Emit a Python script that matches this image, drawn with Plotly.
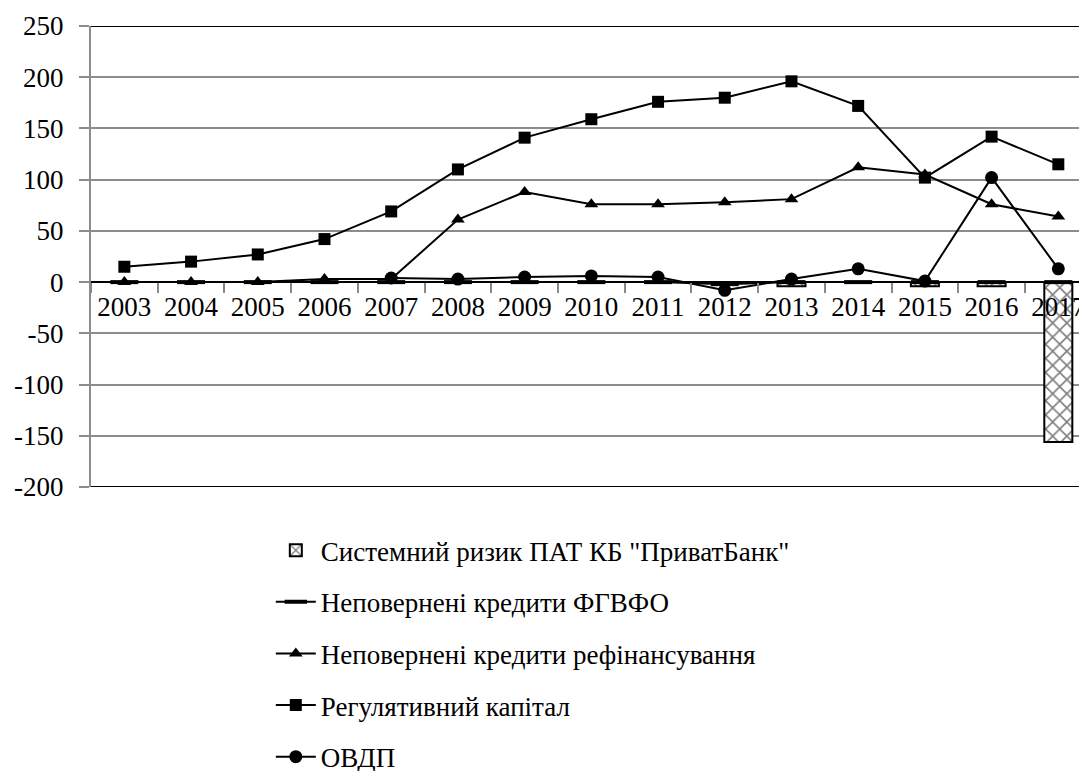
import plotly.graph_objects as go

years = [str(y) for y in range(2003, 2018)]
sys_risk = [None, None, None, None, None, None, None, None, None, None, -4, None, -4, -4, -156]
fgvfo = [0, 0, 0, 0, 0, 0, 0, 0, 0, -2, 0, 0, 0, 0, 0]
refin = [0, 0, 0, 3, 3, 61, 88, 76, 76, 78, 81, 112, 105, 76, 64]
capital = [15, 20, 27, 42, 69, 110, 141, 159, 176, 180, 196, 172, 102, 142, 115]
ovdp = [None, None, None, None, 4, 3, 5, 6, 5, -8, 3, 13, 1, 102, 13]
y_ticks = [250, 200, 150, 100, 50, 0, -50, -100, -150, -200]
y_tick_labels = ["250", "200", "150", "100", "50", "0", "-50", "-100", "-150", "-200"]

names = [
    'Системний ризик ПАТ КБ "ПриватБанк"',
    'Неповернені кредити ФГВФО',
    'Неповернені кредити рефінансування',
    'Регулятивний капітал',
    'ОВДП',
]

FONT = "Liberation Serif"
fig = go.Figure()
fig.add_trace(go.Bar(
    x=years, y=sys_risk, name=names[0], legendgroup="a",
    marker=dict(color="white", line=dict(color="black", width=2),
                pattern=dict(shape="x", fgcolor="black", bgcolor="white", size=10, solidity=0.3)),
))
fig.add_trace(go.Scatter(
    x=years, y=fgvfo, name=names[1], legendgroup="b", mode="lines+markers",
    line=dict(color="black", width=2),
    marker=dict(symbol="line-ew", size=20, color="black", line=dict(color="black", width=4)),
))
fig.add_trace(go.Scatter(
    x=years, y=refin, name=names[2], legendgroup="c", mode="lines+markers",
    line=dict(color="black", width=2),
    marker=dict(symbol="triangle-up", size=12, color="black"),
))
fig.add_trace(go.Scatter(
    x=years, y=capital, name=names[3], legendgroup="d", mode="lines+markers",
    line=dict(color="black", width=2),
    marker=dict(symbol="square", size=12, color="black"),
))
fig.add_trace(go.Scatter(
    x=years, y=ovdp, name=names[4], legendgroup="e", mode="lines+markers",
    line=dict(color="black", width=2), connectgaps=False,
    marker=dict(symbol="circle", size=13, color="black"),
))

fig.update_layout(
    width=1079, height=771,
    margin=dict(l=91, r=0, t=26, b=284, autoexpand=False),
    paper_bgcolor="white", plot_bgcolor="white",
    font=dict(family=FONT, size=27, color="black"),
    bargap=0.58,
    showlegend=True,
    legend=dict(x=0.182, y=-0.085, xanchor="left", yanchor="top",
                traceorder="grouped", tracegroupgap=13.5, itemwidth=40,
                font=dict(family=FONT, size=27, color="black")),
    xaxis=dict(type="category", range=[-0.5, 14.31], anchor="free", position=200/450,
               showline=True, linecolor="black", linewidth=2, automargin=False,
               ticks="outside", tickson="boundaries", ticklen=10, tickcolor="#888", tickwidth=2,
               showgrid=False, tickfont=dict(family=FONT, size=27, color="black")),
    yaxis=dict(range=[-200, 250], tickvals=y_ticks, ticktext=y_tick_labels,
               showgrid=True, gridcolor="#8c8c8c", gridwidth=2, automargin=False,
               zeroline=False, showline=True, linecolor="#8c8c8c", linewidth=2,
               ticks="outside", ticklen=10, tickcolor="#8c8c8c", tickwidth=2,
               ticklabelstandoff=10,
               tickfont=dict(family=FONT, size=27, color="black")),
    shapes=[
        dict(type="line", xref="paper", yref="y", x0=0, x1=1, y0=250, y1=250,
             line=dict(color="black", width=2)),
        dict(type="line", xref="paper", yref="y", x0=0, x1=1, y0=-200, y1=-200,
             line=dict(color="black", width=2)),
    ],
)

js = """
document.body.style.margin = '0';
var s = document.createElement('style');
s.textContent = '.js-plotly-plot svg text { font-family: "Liberation Serif", "Times New Roman", serif !important; }';
document.head.appendChild(s);
"""
fig.write_html("out.html", config={"displayModeBar": False}, post_script=js)
